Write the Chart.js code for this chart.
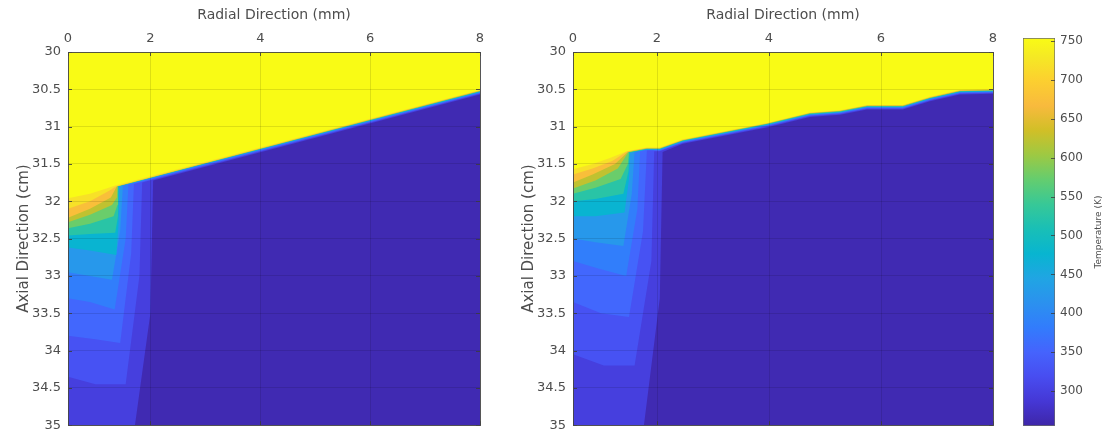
<!DOCTYPE html>
<html>
<head>
<meta charset="utf-8">
<script src="https://cdn.jsdelivr.net/npm/chart.js@4.4.1/dist/chart.umd.min.js"></script>
<style>
  body { margin: 0; background: #fff; }
  #figure { position: relative; width: 1107px; height: 440px; overflow: hidden; }
  #figure canvas { position: absolute; top: 0; }
</style>
</head>
<body>
<div id="figure">
  <canvas id="leftMap" width="500" height="440" style="left:0"></canvas>
  <canvas id="rightMap" width="500" height="440" style="left:505px"></canvas>
  <canvas id="colorBar" width="107" height="440" style="left:1000px"></canvas>
</div>
<script>
// axis ticks
const radialTicks = [0.5, 2, 4, 6, 8];
const radialTickLabels = ["0", "2", "4", "6", "8"];
const axialTicks = [30, 30.5, 31, 31.5, 32, 32.5, 33, 33.5, 34, 34.5, 35];
const tempTicks = [300, 350, 400, 450, 500, 550, 600, 650, 700, 750];
const tempRange = [255, 754];

// isotherm levels (K), hottest first
const levels = [740, 700, 650, 600, 550, 500, 450, 400, 370, 340, 310, 285];
// depth of each isotherm below the melt front (cm)
const frontGap = [0, 0.004, 0.008, 0.012, 0.016, 0.02, 0.025, 0.03, 0.036, 0.042, 0.05, 0.06];

// left case: melt front and isotherms in the hot corner
const leftFrontX = [1.36, 8];
const leftFrontY = [31.79, 30.51];
const leftCornerX = [
  [0.5, 0.9, 1.2, 1.36],
  [0.5, 0.9, 1.25, 1.38],
  [0.5, 0.9, 1.28, 1.39],
  [0.5, 0.9, 1.3, 1.39, 1.4],
  [0.5, 0.9, 1.33, 1.4, 1.41],
  [0.5, 0.9, 1.36, 1.41, 1.42],
  [0.5, 0.9, 1.38, 1.42, 1.43],
  [0.5, 0.9, 1.3, 1.45, 1.5],
  [0.5, 0.9, 1.35, 1.55, 1.6],
  [0.5, 1.0, 1.45, 1.65, 1.7],
  [0.5, 1.0, 1.55, 1.8, 1.85],
  [0.5, 1.1, 1.7, 2.0, 2.05],
];
const leftCornerY = [
  [31.96, 31.9, 31.83, 31.79],
  [32.1, 32.0, 31.86, 31.8],
  [32.22, 32.1, 31.95, 31.8],
  [32.28, 32.18, 32.05, 31.95, 31.8],
  [32.36, 32.3, 32.2, 32.05, 31.8],
  [32.46, 32.44, 32.42, 32.2, 31.8],
  [32.62, 32.66, 32.72, 32.3, 31.8],
  [32.95, 33.0, 33.05, 32.4, 31.79],
  [33.3, 33.35, 33.45, 32.5, 31.78],
  [33.8, 33.85, 33.9, 32.7, 31.77],
  [34.35, 34.45, 34.45, 33.0, 31.75],
  [35.1, 35.1, 35.1, 33.5, 31.72],
];

// right case
const rightFrontX = [1.46, 1.82, 2.05, 2.46, 3.96, 4.73, 5.27, 5.75, 6.39, 6.875, 7.41, 8];
const rightFrontY = [31.33, 31.28, 31.28, 31.17, 30.95, 30.81, 30.78, 30.71, 30.71, 30.6, 30.51, 30.5];
const rightCornerX = [
  [0.5, 0.85, 1.16, 1.46],
  [0.5, 0.85, 1.2, 1.47],
  [0.5, 0.85, 1.25, 1.48],
  [0.5, 0.9, 1.3, 1.49],
  [0.5, 0.9, 1.35, 1.48, 1.5],
  [0.5, 0.9, 1.4, 1.49, 1.51],
  [0.5, 0.9, 1.42, 1.5, 1.52],
  [0.5, 0.9, 1.4, 1.55, 1.6],
  [0.5, 0.95, 1.45, 1.65, 1.7],
  [0.5, 1.0, 1.5, 1.75, 1.82],
  [0.5, 1.05, 1.6, 1.9, 1.95],
  [0.5, 1.1, 1.75, 2.05, 2.1],
];
const rightCornerY = [
  [31.57, 31.5, 31.42, 31.33],
  [31.64, 31.56, 31.46, 31.33],
  [31.75, 31.64, 31.5, 31.34],
  [31.83, 31.72, 31.56, 31.34],
  [31.9, 31.82, 31.7, 31.5, 31.34],
  [32.0, 31.97, 31.9, 31.6, 31.35],
  [32.2, 32.2, 32.15, 31.7, 31.35],
  [32.5, 32.55, 32.6, 31.9, 31.33],
  [32.8, 32.9, 33.0, 32.1, 31.32],
  [33.35, 33.5, 33.55, 32.4, 31.31],
  [34.05, 34.2, 34.2, 32.8, 31.33],
  [35.1, 35.1, 35.1, 33.3, 31.34],
];

// parula colormap stops
const parula = [
  [0.000, [62, 38, 168]],
  [0.063, [69, 55, 213]],
  [0.127, [72, 77, 240]],
  [0.190, [69, 99, 253]],
  [0.254, [50, 124, 252]],
  [0.317, [43, 145, 239]],
  [0.381, [32, 165, 227]],
  [0.444, [8, 181, 208]],
  [0.508, [25, 191, 182]],
  [0.571, [55, 200, 151]],
  [0.635, [100, 205, 111]],
  [0.698, [157, 201, 67]],
  [0.762, [209, 191, 39]],
  [0.825, [248, 186, 61]],
  [0.889, [252, 207, 48]],
  [0.952, [245, 233, 36]],
  [1.000, [249, 251, 21]],
];

const rgb = (c) => `rgb(${c.map(Math.round).join(",")})`;

function tempColor(temp) {
  const t = Math.min(1, Math.max(0, (temp - tempRange[0]) / (tempRange[1] - tempRange[0])));
  for (let i = 1; i < parula.length; i++) {
    const [p1, c1] = parula[i];
    const [p0, c0] = parula[i - 1];
    if (t <= p1) {
      const f = (t - p0) / (p1 - p0);
      return rgb(c0.map((v, j) => v + (c1[j] - v) * f));
    }
  }
  return rgb(parula[parula.length - 1][1]);
}

// colour of the band between an isotherm and the next hotter one
const bandColor = (k) => tempColor(k === 0 ? tempRange[1] : (levels[k] + levels[k - 1]) / 2);

// isotherm path: its own shape in the corner, then along the front
function isotherm(cx, cy, fx, fy, gap) {
  const pts = cx.map((x, i) => ({ x, y: cy[i] }));
  const last = cx[cx.length - 1];
  fx.forEach((x, i) => {
    if (x > last) pts.push({ x, y: fy[i] + gap });
  });
  return pts;
}

Chart.defaults.font.family = "'DejaVu Sans', sans-serif";
Chart.defaults.color = "#4d4d4d";

const plotBackground = {
  id: "plotBackground",
  beforeDatasetsDraw(chart) {
    const { ctx, chartArea: a } = chart;
    ctx.save();
    ctx.fillStyle = tempColor(262);
    ctx.fillRect(a.left, a.top, a.width, a.height);
    ctx.restore();
  },
};

// box round the axes with short inward ticks
const plotFrame = {
  id: "plotFrame",
  afterDraw(chart) {
    const { ctx, chartArea: a, scales } = chart;
    ctx.save();
    ctx.strokeStyle = "rgba(60,60,60,0.85)";
    ctx.lineWidth = 1;
    ctx.beginPath();
    scales.x.ticks.forEach((t) => {
      const px = Math.round(scales.x.getPixelForValue(t.value)) + 0.5;
      ctx.moveTo(px, a.top); ctx.lineTo(px, a.top + 4);
      ctx.moveTo(px, a.bottom); ctx.lineTo(px, a.bottom - 4);
    });
    scales.y.ticks.forEach((t) => {
      const py = Math.round(scales.y.getPixelForValue(t.value)) + 0.5;
      ctx.moveTo(a.left, py); ctx.lineTo(a.left + 4, py);
      ctx.moveTo(a.right, py); ctx.lineTo(a.right - 4, py);
    });
    ctx.stroke();
    ctx.strokeStyle = "rgba(70,70,70,0.9)";
    ctx.strokeRect(Math.round(a.left) + 0.5, Math.round(a.top) + 0.5, Math.round(a.width), Math.round(a.height));
    ctx.restore();
  },
};

function drawMap(canvasId, cornerX, cornerY, frontX, frontY, padRight) {
  const datasets = levels.map((lvl, k) => ({
    label: lvl + " K",
    data: isotherm(cornerX[k], cornerY[k], frontX, frontY, frontGap[k]),
    showLine: true,
    pointRadius: 0,
    borderWidth: 0,
    borderColor: "rgba(0,0,0,0)",
    backgroundColor: bandColor(k),
    fill: { value: 30 },
    tension: 0,
  }));

  return new Chart(document.getElementById(canvasId), {
    type: "scatter",
    data: { datasets },
    plugins: [plotBackground, plotFrame],
    options: {
      responsive: false,
      animation: false,
      layout: { padding: { left: 0, top: 0, right: padRight, bottom: 13 } },
      plugins: { legend: { display: false }, tooltip: { enabled: false } },
      scales: {
        x: {
          type: "linear",
          position: "top",
          min: radialTicks[0],
          max: radialTicks[radialTicks.length - 1],
          afterBuildTicks: (s) => { s.ticks = radialTicks.map((v) => ({ value: v })); },
          afterFit: (s) => { s.height = 52; },
          ticks: {
            font: { size: 13 },
            padding: 6,
            maxRotation: 0,
            callback: (v, i) => radialTickLabels[i],
          },
          grid: { color: "rgba(0,0,0,0.11)", drawTicks: false, z: 1 },
          border: { display: false },
          title: {
            display: true,
            text: "Radial Direction (mm)",
            font: { size: 14 },
            padding: { top: 7, bottom: 0 },
          },
        },
        y: {
          type: "linear",
          reverse: true,
          min: axialTicks[0],
          max: axialTicks[axialTicks.length - 1],
          afterBuildTicks: (s) => { s.ticks = axialTicks.map((v) => ({ value: v })); },
          afterFit: (s) => { s.width = 68; },
          ticks: {
            font: { size: 13 },
            padding: 7,
            callback: (v) => String(v),
          },
          grid: { color: "rgba(0,0,0,0.11)", drawTicks: false, z: 1 },
          border: { display: false },
          title: {
            display: true,
            text: "Axial Direction (cm)",
            font: { size: 15 },
            padding: { top: 15, bottom: 0 },
          },
        },
      },
    },
  });
}

drawMap("leftMap", leftCornerX, leftCornerY, leftFrontX, leftFrontY, 20);
drawMap("rightMap", rightCornerX, rightCornerY, rightFrontX, rightFrontY, 12);

// colour bar
const barDecor = {
  id: "barDecor",
  afterDraw(chart) {
    const { ctx, chartArea: a, scales } = chart;
    ctx.save();
    ctx.strokeStyle = "rgba(60,60,60,0.8)";
    ctx.beginPath();
    tempTicks.forEach((v) => {
      const py = Math.round(scales.y.getPixelForValue(v)) + 0.5;
      ctx.moveTo(a.right - 4, py); ctx.lineTo(a.right, py);
    });
    ctx.stroke();
    ctx.translate(a.right + 44, (a.top + a.bottom) / 2);
    ctx.rotate(-Math.PI / 2);
    ctx.fillStyle = "#4d4d4d";
    ctx.font = "9px 'DejaVu Sans', sans-serif";
    ctx.textAlign = "center";
    ctx.textBaseline = "middle";
    ctx.fillText("Temperature (K)", 0, 0);
    ctx.restore();
  },
};

function barGradient(c) {
  const y = c.chart.scales.y;
  const y0 = y ? y.getPixelForValue(tempRange[0]) : NaN;
  const y1 = y ? y.getPixelForValue(tempRange[1]) : NaN;
  if (!Number.isFinite(y0) || !Number.isFinite(y1) || y0 === y1) {
    return tempColor((tempRange[0] + tempRange[1]) / 2);
  }
  const g = c.chart.ctx.createLinearGradient(0, y0, 0, y1);
  parula.forEach(([p, col]) => g.addColorStop(p, rgb(col)));
  return g;
}

new Chart(document.getElementById("colorBar"), {
  type: "bar",
  data: {
    labels: [""],
    datasets: [{
      data: [tempRange],
      barPercentage: 1,
      categoryPercentage: 1,
      borderSkipped: false,
      borderWidth: 1,
      borderColor: "rgba(70,70,70,0.8)",
      backgroundColor: barGradient,
    }],
  },
  plugins: [barDecor],
  options: {
    responsive: false,
    animation: false,
    layout: { padding: { left: 23, top: 38, right: 0, bottom: 14 } },
    plugins: { legend: { display: false }, tooltip: { enabled: false } },
    scales: {
      x: { display: false },
      y: {
        position: "right",
        min: tempRange[0],
        max: tempRange[1],
        afterBuildTicks: (s) => { s.ticks = tempTicks.map((v) => ({ value: v })); },
        afterFit: (s) => { s.width = 52; },
        ticks: { font: { size: 12 }, padding: 5 },
        grid: { display: false, drawTicks: false },
        border: { display: false },
      },
    },
  },
});
</script>
</body>
</html>
